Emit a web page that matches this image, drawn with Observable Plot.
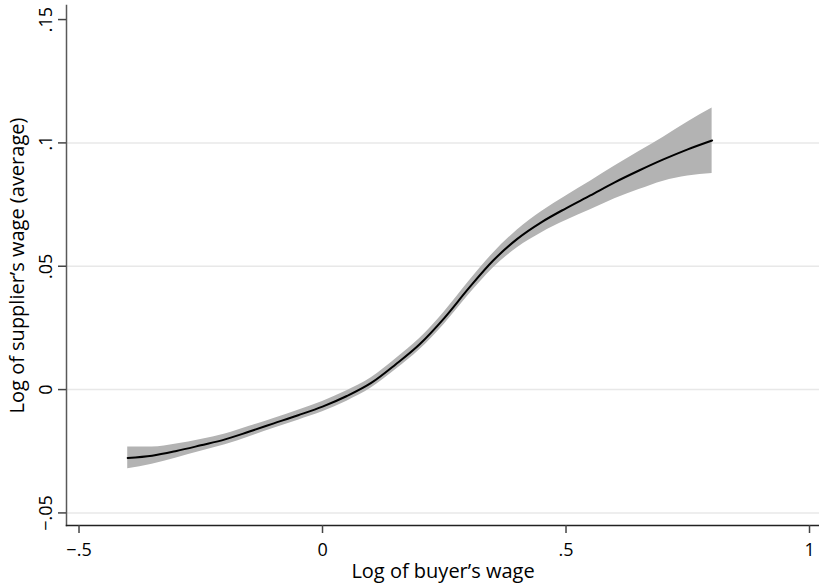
<!DOCTYPE html>
<html><head><meta charset="utf-8">
<script src="https://cdn.jsdelivr.net/npm/d3@7"></script>
<script src="https://cdn.jsdelivr.net/npm/@observablehq/plot@0.6"></script>
<style>body{margin:0;background:#fff} svg{display:block}</style>
</head><body><div id="chart"></div>
<script>
// Log of buyer's wage (evaluation grid)
const buyerWage = [-0.4,-0.35,-0.3,-0.25,-0.2,-0.15,-0.1,-0.05,0,0.05,0.1,0.15,0.2,0.25,0.3,0.35,0.4,0.45,0.5,0.55,0.6,0.65,0.7,0.75,0.8];
// fitted log of supplier's wage (average)
const fitted = [-0.0277,-0.0268,-0.0249,-0.0226,-0.0202,-0.0170,-0.0137,-0.0104,-0.0069,-0.0026,0.0027,0.0102,0.0185,0.0290,0.0410,0.0522,0.0611,0.0679,0.0735,0.0787,0.0840,0.0888,0.0933,0.0974,0.1010];
// 95% confidence band
const lower = [-0.0321,-0.0303,-0.0277,-0.0250,-0.0224,-0.0191,-0.0157,-0.0124,-0.0090,-0.0047,0.0006,0.0080,0.0162,0.0265,0.0383,0.0492,0.0575,0.0636,0.0685,0.0729,0.0774,0.0811,0.0845,0.0866,0.0876];
const upper = [-0.0233,-0.0233,-0.0221,-0.0202,-0.0180,-0.0149,-0.0117,-0.0084,-0.0048,-0.0005,0.0048,0.0124,0.0208,0.0315,0.0437,0.0552,0.0647,0.0722,0.0785,0.0845,0.0906,0.0965,0.1023,0.1085,0.1141];

const xTicks = [-0.5, 0, 0.5, 1];
const xTickLabels = ["\u2212.5", "0", ".5", "1"];
const yTicks = [-0.05, 0, 0.05, 0.1, 0.15];
const yTickLabels = ["\u2212.05", "0", ".05", ".1", ".15"];
const gridValues = [-0.05, 0, 0.05, 0.1];
const xDomain = [-0.5257, 1.0205];
const yDomain = [-0.0551, 0.1557];
const xTitle = "Log of buyer\u2019s wage";
const yTitle = "Log of supplier\u2019s wage (average)";

const data = buyerWage.map((x, i) => ({x, fit: fitted[i], lo: lower[i], hi: upper[i]}));

const plot = Plot.plot({
  width: 819, height: 586,
  marginLeft: 66, marginRight: 0, marginTop: 5, marginBottom: 61,
  style: {fontFamily: "'Open Sans', sans-serif", background: "#fff", color: "#000"},
  x: {domain: xDomain},
  y: {domain: yDomain},
  marks: [
    Plot.ruleY(gridValues, {stroke: "#e8e8e8", strokeWidth: 1.5}),
    Plot.areaY(data, {x: "x", y1: "lo", y2: "hi", fill: "#b3b3b3", curve: "monotone-x"}),
    Plot.line(data, {x: "x", y: "fit", stroke: "#000", strokeWidth: 2, curve: "monotone-x"}),
    Plot.frame({anchor: "left", stroke: "#595959", strokeWidth: 1.5}),
    Plot.frame({anchor: "bottom", stroke: "#222", strokeWidth: 1.5}),
    Plot.axisX({ticks: xTicks, tickFormat: d => xTickLabels[xTicks.indexOf(d)], tickSize: 8, tickPadding: 10, fontSize: 18, stroke: "#444", strokeWidth: 1.5, label: null}),
    Plot.axisY({ticks: yTicks, tickFormat: d => yTickLabels[yTicks.indexOf(d)], tickSize: 8, tickRotate: -90, tickPadding: 7, fontSize: 18, stroke: "#444", strokeWidth: 1.5, label: null}),
    Plot.text([xTitle], {text: d => d, frameAnchor: "bottom", dy: 38, lineAnchor: "top", fontSize: 20}),
    Plot.text([yTitle], {text: d => d, frameAnchor: "left", rotate: -90, dx: -57, lineAnchor: "top", textAnchor: "middle", fontSize: 20})
  ]
});
document.getElementById("chart").appendChild(plot);
</script>
</body></html>
